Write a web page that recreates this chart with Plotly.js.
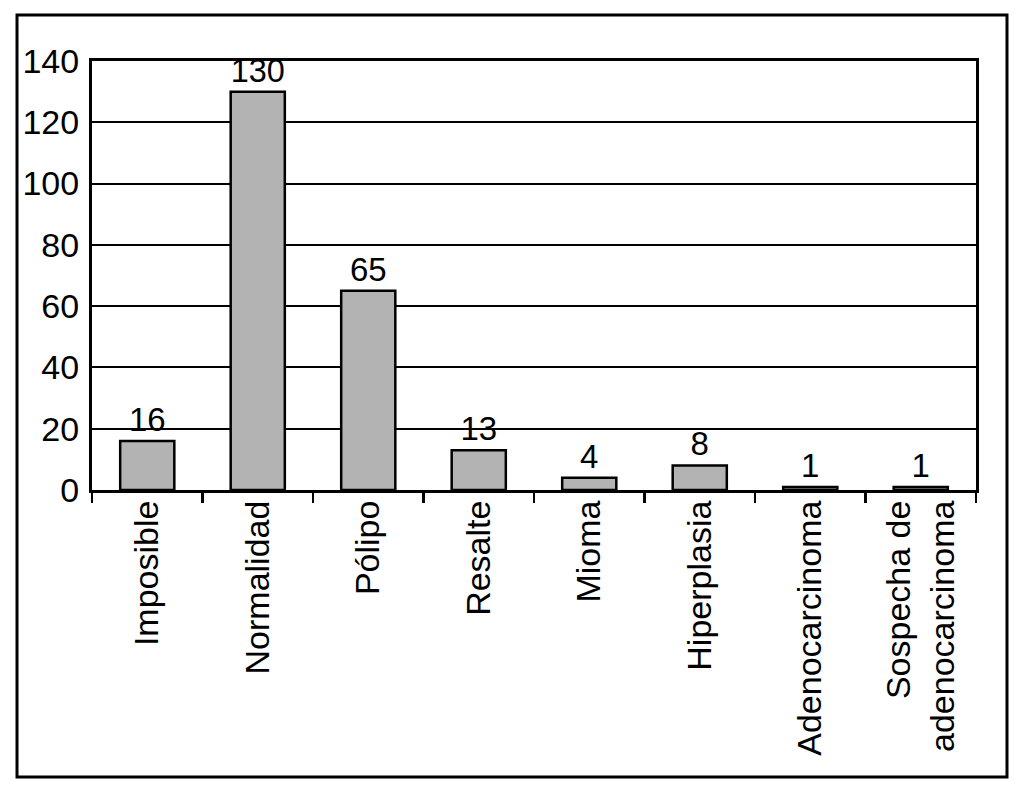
<!DOCTYPE html>
<html>
<head>
<meta charset="utf-8">
<script src="https://cdn.plot.ly/plotly-3.0.1.min.js"></script>
<style>html,body{margin:0;padding:0;background:#fff;}#chart{width:1024px;height:788px;}</style>
</head>
<body>
<div id="chart"></div>
<script>
const categories = ["Imposible", "Normalidad", "Pólipo", "Resalte", "Mioma", "Hiperplasia", "Adenocarcinoma", "Sospecha de<br>adenocarcinoma"];
const values = [16, 130, 65, 13, 4, 8, 1, 1];
const yTickValues = [0, 20, 40, 60, 80, 100, 120, 140];

const L = 92, R = 48, T = 61, B = 298, W = 1024, H = 788;
const pw = W - L - R, ph = H - T - B;

const trace = {
  type: 'bar',
  x: categories,
  y: values,
  text: values.map(String),
  textposition: 'outside',
  cliponaxis: false,
  textfont: {family: 'Liberation Sans, Arial, sans-serif', size: 33, color: '#000'},
  marker: {color: '#b3b3b3', line: {color: '#000', width: 2.5}},
  width: 0.49,
  hoverinfo: 'none'
};

const layout = {
  width: W, height: H,
  margin: {l: L, r: R, t: T, b: B, pad: 0},
  paper_bgcolor: '#fff',
  plot_bgcolor: '#fff',
  showlegend: false,
  font: {family: 'Liberation Sans, Arial, sans-serif', color: '#000'},
  xaxis: {
    type: 'category',
    tickangle: -90,
    tickson: 'boundaries',
    ticks: 'outside',
    ticklen: 10,
    tickwidth: 2.5,
    tickcolor: '#000',
    ticklabelstandoff: -6,
    tickfont: {size: 34, color: '#000'},
    showline: true,
    linecolor: '#000',
    linewidth: 3,
    mirror: true,
    showgrid: false,
    zeroline: false
  },
  yaxis: {
    range: [0, 140],
    tickvals: yTickValues,
    ticktext: yTickValues.map(String),
    ticks: '',
    tickfont: {size: 34, color: '#000'},
    ticklabelstandoff: 3,
    showline: true,
    linecolor: '#000',
    linewidth: 3,
    mirror: true,
    showgrid: true,
    gridcolor: '#000',
    gridwidth: 2,
    zeroline: false
  },
  shapes: [{
    type: 'rect', xref: 'paper', yref: 'paper',
    x0: (17 - L) / pw, x1: (1007 - L) / pw,
    y0: (H - B - 777) / ph, y1: (H - B - 15) / ph,
    line: {color: '#000', width: 3}, fillcolor: 'rgba(0,0,0,0)'
  }]
};

Plotly.newPlot('chart', [trace], layout, {staticPlot: true, displayModeBar: false});
</script>
</body>
</html>
